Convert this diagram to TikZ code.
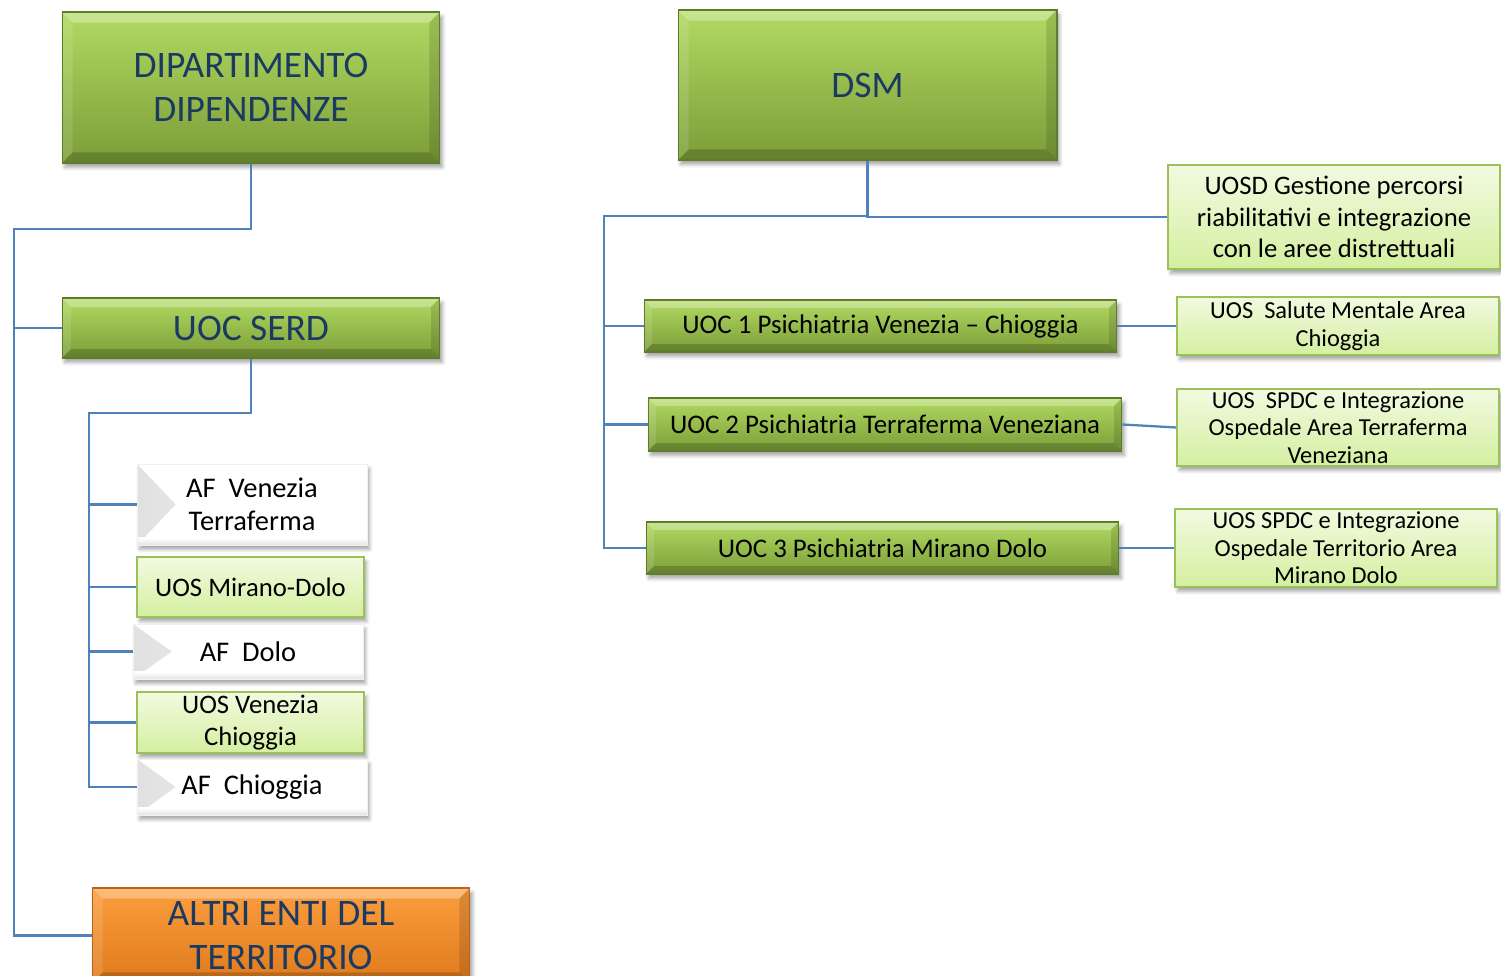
\documentclass[tikz,border=0pt]{standalone}
\usepackage{fontspec}
\setmainfont{Carlito}
\usepackage{tikz}
\usetikzlibrary{calc,shadows.blur}

\definecolor{greentop}{HTML}{B1DA62}
\definecolor{greenbot}{HTML}{7C9D38}
\definecolor{greenedge}{HTML}{5F7C2A}
\definecolor{orangetop}{HTML}{FB9E3E}
\definecolor{orangebot}{HTML}{DF7A1C}
\definecolor{orangeedge}{HTML}{B8621A}
\definecolor{lgtop}{HTML}{F2FAE1}
\definecolor{lgbot}{HTML}{D4EFA0}
\definecolor{lgedge}{HTML}{9BC25A}
\definecolor{navy}{HTML}{1B3A62}
\definecolor{linkblue}{HTML}{4F81BD}

\begin{document}
\begin{tikzpicture}[x=0.02cm, y=-0.02cm,
    bevel/.style={path picture={
        \fill[white, opacity=0.3] (path picture bounding box.north west) -- (path picture bounding box.north east)
            -- ([xshift=-#1, yshift=-#1]path picture bounding box.north east) -- ([xshift=#1, yshift=-#1]path picture bounding box.north west) -- cycle;
        \fill[white, opacity=0.12] (path picture bounding box.north west) -- (path picture bounding box.south west)
            -- ([xshift=#1, yshift=#1]path picture bounding box.south west) -- ([xshift=#1, yshift=-#1]path picture bounding box.north west) -- cycle;
        \fill[black, opacity=0.12] (path picture bounding box.north east) -- (path picture bounding box.south east)
            -- ([xshift=-#1, yshift=#1]path picture bounding box.south east) -- ([xshift=-#1, yshift=-#1]path picture bounding box.north east) -- cycle;
        \fill[black, opacity=0.18] (path picture bounding box.south west) -- (path picture bounding box.south east)
            -- ([xshift=-#1, yshift=#1]path picture bounding box.south east) -- ([xshift=#1, yshift=#1]path picture bounding box.south west) -- cycle;
    }},
    boxshadow/.style={blur shadow={shadow xshift=1.5pt, shadow yshift=-2.5pt, shadow blur radius=2pt, shadow opacity=35}},
    bigbox/.style={rectangle, draw=greenedge, line width=0.6pt, top color=greentop, bottom color=greenbot,
    text=navy, align=center, inner sep=0pt, bevel=6pt, boxshadow, font=\fontsize{21.3}{25}\selectfont},
    otherbox/.style={bigbox, draw=orangeedge, top color=orangetop, bottom color=orangebot},
    midbox/.style={bigbox, bevel=4.5pt, text=black, font=\fontsize{15.3}{18}\selectfont},
    subbox/.style={rectangle, draw=lgedge, line width=1pt, top color=lgtop, bottom color=lgbot,
    text=black, align=center, inner sep=0pt, boxshadow, font=\fontsize{15.2}{18}\selectfont},
    smallsub/.style={subbox, font=\fontsize{13.9}{15.6}\selectfont},
    afbox/.style={rectangle, draw=gray!12, fill=white, text=black, align=center, inner sep=0pt, boxshadow,
    font=\fontsize{16.2}{18.5}\selectfont, path picture={
        \shade[left color=gray!24, right color=gray!4] (path picture bounding box.north west)
            -- ([xshift=22pt]path picture bounding box.west) -- (path picture bounding box.south west) -- cycle;
        \shade[top color=white, bottom color=gray!22] ([yshift=4pt]path picture bounding box.south west)
            -- ([yshift=4pt]path picture bounding box.south east) -- (path picture bounding box.south east)
            -- (path picture bounding box.south west) -- cycle;
    }},
    link/.style={draw=linkblue, line width=1.3pt}]

    \useasboundingbox (0,0) rectangle (1501,976);

    \node (dip) [bigbox, minimum width=7.56cm, minimum height=3.02cm] at (251,87.5) {DIPARTIMENTO\\DIPENDENZE};
    \node (dsm) [bigbox, minimum width=7.58cm, minimum height=3cm] at (867.5,85) {DSM};
    \node (serd) [bigbox, bevel=5pt, minimum width=7.56cm, minimum height=1.2cm] at (251,328) {UOC SERD};
    \node (altri) [otherbox, minimum width=7.56cm, minimum height=1.9cm] at (281,935.5) {ALTRI ENTI DEL\\TERRITORIO};

    \node (afven) [afbox, minimum width=4.6cm, minimum height=1.62cm] at (252,504.5) {AF~~Venezia\\Terraferma};
    \node (uosmd) [subbox, minimum width=4.54cm, minimum height=1.2cm] at (250.5,587) {UOS Mirano-Dolo};
    \node (afdolo) [afbox, minimum width=4.6cm, minimum height=1.1cm] at (248,651.5) {AF~~Dolo};
    \node (uosvc) [subbox, minimum width=4.54cm, minimum height=1.22cm] at (250.5,722.5) {UOS Venezia\\Chioggia};
    \node (afchi) [afbox, minimum width=4.6cm, minimum height=1.12cm] at (252,787) {AF~~Chioggia};

    \node (uoc1) [midbox, minimum width=9.46cm, minimum height=1.04cm] at (880.5,326) {UOC 1 Psichiatria Venezia – Chioggia};
    \node (uoc2) [midbox, minimum width=9.48cm, minimum height=1.06cm] at (885,424.5) {UOC 2 Psichiatria Terraferma Veneziana};
    \node (uoc3) [midbox, minimum width=9.46cm, minimum height=1.04cm] at (882.5,548) {UOC 3 Psichiatria Mirano Dolo};

    \node (uosd) [subbox, minimum width=6.64cm, minimum height=2.08cm] at (1334,217) {UOSD Gestione percorsi\\riabilitativi e integrazione\\con le aree distrettuali};
    \node (uos1) [smallsub, minimum width=6.44cm, minimum height=1.16cm] at (1338,326) {UOS~~Salute Mentale Area\\Chioggia};
    \node (uos2) [smallsub, minimum width=6.44cm, minimum height=1.54cm] at (1338,427.5) {UOS~~SPDC e Integrazione\\Ospedale Area Terraferma\\Veneziana};
    \node (uos3) [smallsub, minimum width=6.44cm, minimum height=1.56cm] at (1336,548) {UOS SPDC e Integrazione\\Ospedale Territorio Area\\Mirano Dolo};

    \coordinate (ltop) at (14,229);
    \coordinate (stop) at (89,413);
    \coordinate (rtop) at (604,216);

    \draw [link] (dip.south) |- (ltop) |- (altri.west);
    \draw [link] (ltop) |- (serd.west);
    \draw [link] (serd.south) |- (stop) |- (afchi.west);
    \draw [link] (stop) |- (afven.west);
    \draw [link] (stop) |- (uosmd.west);
    \draw [link] (stop) |- (afdolo.west);
    \draw [link] (stop) |- (uosvc.west);
    \draw [link] (dsm.south) |- (rtop) |- (uoc3.west);
    \draw [link] (dsm.south) |- (uosd.west);
    \draw [link] (rtop) |- (uoc1.west);
    \draw [link] (rtop) |- (uoc2.west);
    \draw [link] (uoc1.east) -- (uos1.west);
    \draw [link] (uoc2.east) -- (uos2.west);
    \draw [link] (uoc3.east) -- (uos3.west);
\end{tikzpicture}
\end{document}
